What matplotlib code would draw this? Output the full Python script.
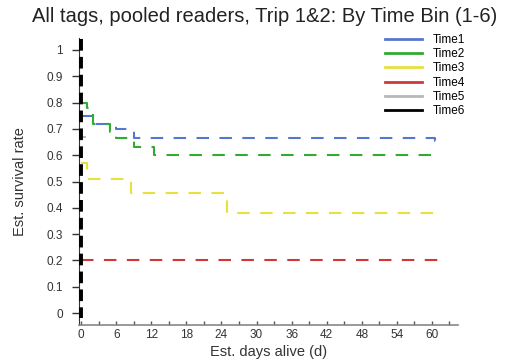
import matplotlib
matplotlib.use("Agg")
import matplotlib.pyplot as plt
from matplotlib.ticker import MultipleLocator

plt.rcParams['font.family'] = ['Liberation Sans', 'DejaVu Sans']

title = "All tags, pooled readers, Trip 1&2: By Time Bin (1-6)"
series_names = ["Time1", "Time2", "Time3", "Time4", "Time5", "Time6"]
colors = ["#5577cc", "#33aa33", "#e6e040", "#d03838", "#b8b8b8", "#000000"]

# Kaplan-Meier step curves: event times (days) and survival after each step
time1_t = [0, 2, 6, 9, 60.5, 61]
time1_s = [0.75, 0.72, 0.70, 0.665, 0.655, 0.655]
time2_t = [0, 1, 2, 5, 6, 9, 12.5, 60.5, 61]
time2_s = [0.80, 0.78, 0.72, 0.69, 0.665, 0.63, 0.60, 0.59, 0.59]
time3_t = [0, 1, 8.5, 25, 60.5, 61]
time3_s = [0.57, 0.51, 0.455, 0.38, 0.375, 0.375]
time4_t = [0, 61]
time4_s = [0.20, 0.20]
time5_t = [0, 0.8]
time5_s = [0.67, 0.67]
time6_t = [0, 0]
time6_s = [1.04, -0.02]

all_t = [time1_t, time2_t, time3_t, time4_t, time5_t, time6_t]
all_s = [time1_s, time2_s, time3_s, time4_s, time5_s, time6_s]

fig = plt.figure(figsize=(5.12, 3.63), dpi=100)
ax = fig.add_axes([0.155, 0.105, 0.74, 0.79])

for name, c, t, s in zip(series_names, colors, all_t, all_s):
    if name == "Time6":
        ax.step(t, s, where="post", color=c, lw=2.8, linestyle=(0, (3, 1.6)), zorder=3)
    else:
        ax.step(t, s, where="post", color=c, lw=1.5, linestyle=(0, (6, 5)), zorder=2)

# Legend handles are drawn solid
handles = [plt.Line2D([], [], color=c, lw=2.0) for c in colors]
fig.legend(handles, series_names, loc="upper left", bbox_to_anchor=(0.735, 0.93),
           frameon=False, fontsize=8.5, handlelength=3.2, labelspacing=0.2,
           handletextpad=0.9, borderpad=0.2)

ax.set_xlim(-0.3, 64.5)
ax.set_ylim(-0.045, 1.045)
ax.xaxis.set_major_locator(MultipleLocator(6))
ax.xaxis.set_minor_locator(MultipleLocator(3))
ax.set_yticks([0, 0.1, 0.2, 0.3, 0.4, 0.5, 0.6, 0.7, 0.8, 0.9, 1.0])
ax.set_yticklabels(["0", "0.1", "0.2", "0.3", "0.4", "0.5", "0.6", "0.7", "0.8", "0.9", "1"])

for sp in ["top", "right"]:
    ax.spines[sp].set_visible(False)
ax.spines["left"].set_color("#333333")
ax.spines["bottom"].set_color("#888888")
ax.spines["left"].set_linewidth(0.8)
ax.spines["bottom"].set_linewidth(1.2)

ax.tick_params(axis="y", direction="out", length=5, width=1, labelsize=8.5, colors="#333333", pad=7)
ax.tick_params(axis="x", which="major", direction="in", length=3, width=1, labelsize=8.5, colors="#555555", pad=3)
ax.tick_params(axis="x", which="minor", direction="in", length=3, width=1, colors="#555555")
ax.tick_params(axis="x", labelcolor="#333333")

ax.set_xlabel("Est. days alive (d)", fontsize=10.5, color="#333333", labelpad=3)
ax.set_ylabel("Est. survival rate", fontsize=10.5, color="#333333", labelpad=14)
fig.text(0.517, 0.955, title, ha="center", va="center", fontsize=14.5, color="#222222")

fig.savefig("out.png", dpi=100)
